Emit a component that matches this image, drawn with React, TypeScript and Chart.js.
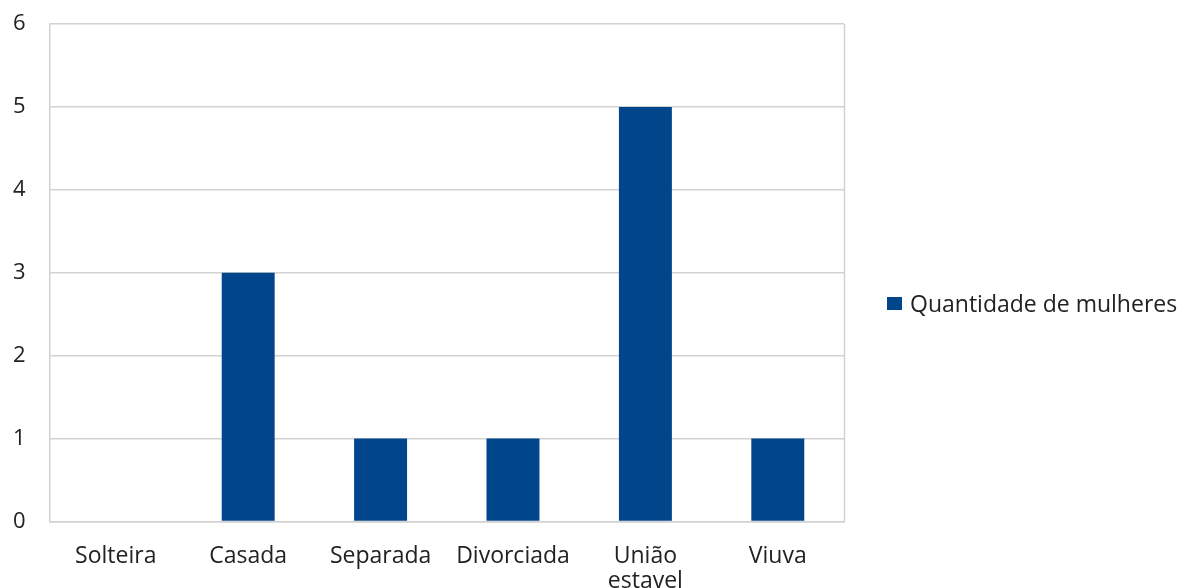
import React, { useEffect, useRef } from "react";
import { Chart, registerables } from "chart.js";

Chart.register(...registerables);

const categories: (string | string[])[] = [
  "Solteira",
  "Casada",
  "Separada",
  "Divorciada",
  ["União", "estavel"],
  "Viuva",
];
const seriesLabel = "Quantidade de mulheres";
const seriesValues = [0, 3, 1, 1, 5, 1];
const yMin = 0;
const yMax = 6;
const yStep = 1;

const BAR_COLOR = "#01468a";
const GRID_COLOR = "#d2d2d2";
const TEXT_COLOR = "#222222";
const FONT = "'Open Sans', 'Noto Sans', sans-serif";

// Outline of the whole plot area (right edge included)
const frame = {
  id: "plotFrame",
  afterDatasetsDraw(chart: Chart) {
    const { ctx, chartArea } = chart;
    ctx.save();
    ctx.strokeStyle = GRID_COLOR;
    ctx.lineWidth = 1.5;
    ctx.beginPath();
    const r = Math.round(chartArea.right) + 0.5;
    ctx.moveTo(r, chartArea.top);
    ctx.lineTo(r, chartArea.bottom);
    ctx.stroke();
    ctx.restore();
  },
};

export default function App() {
  const ref = useRef<HTMLCanvasElement>(null);

  useEffect(() => {
    document.body.style.margin = "0";
    const chart = new Chart(ref.current!, {
      type: "bar",
      data: {
        labels: categories,
        datasets: [
          {
            label: seriesLabel,
            data: seriesValues,
            backgroundColor: BAR_COLOR,
            barPercentage: 0.4,
            categoryPercentage: 1,
          },
        ],
      },
      options: {
        animation: false,
        responsive: false,
        layout: { padding: { left: 9, top: 24, right: 337, bottom: -28 } },
        plugins: {
          legend: { display: false },
          tooltip: { enabled: false },
        },
        scales: {
          x: {
            grid: { display: false, drawTicks: false },
            border: { display: true, color: GRID_COLOR, width: 1.5 },
            ticks: {
              color: TEXT_COLOR,
              font: { family: FONT, size: 23, lineHeight: 1.1 },
              padding: 22,
              maxRotation: 0,
              autoSkip: false,
            },
          },
          y: {
            min: yMin,
            max: yMax,
            grid: {
              color: GRID_COLOR,
              lineWidth: 1.5,
              drawTicks: true,
              tickLength: 20,
              tickColor: "transparent",
            },
            border: { display: true, color: GRID_COLOR, width: 1.5 },
            ticks: {
              stepSize: yStep,
              color: TEXT_COLOR,
              font: { family: FONT, size: 22 },
              padding: 4,
            },
          },
        },
      },
      plugins: [frame],
    });
    return () => chart.destroy();
  }, []);

  return (
    <div style={{ position: "relative", width: 1181, height: 588 }}>
      <canvas ref={ref} width={1181} height={588} />
      <div
        style={{
          position: "absolute",
          left: 887,
          top: 287,
          display: "flex",
          alignItems: "center",
          fontFamily: FONT,
          fontSize: 23,
          color: TEXT_COLOR,
          whiteSpace: "nowrap",
        }}
      >
        <span
          style={{
            display: "inline-block",
            width: 15,
            height: 13,
            background: BAR_COLOR,
            marginRight: 8,
          }}
        />
        <span>{seriesLabel}</span>
      </div>
    </div>
  );
}
